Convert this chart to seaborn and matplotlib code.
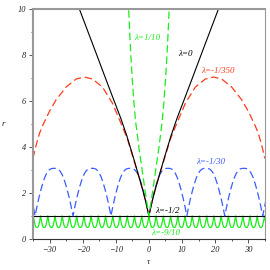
import numpy as np
import seaborn as sns
import matplotlib.pyplot as plt
from matplotlib.ticker import MultipleLocator

# curves
black_tau = [-22, -21, -19, -16, -13, -10.6, -8.5, -6.7, -4.5, -3, -2, -1, 0,
             1, 2, 3, 4.5, 6.7, 8.5, 10.6, 13, 16, 19, 21, 22]
black_r = [10.4, 10.0, 9.24, 8.1, 6.95, 6.04, 5.25, 4.5, 3.45, 2.7, 2.2, 1.65, 1.0,
           1.65, 2.2, 2.7, 3.45, 4.5, 5.25, 6.04, 6.95, 8.1, 9.24, 10.0, 10.4]

red_tau = [-35, -34, -33, -32, -30, -28, -25, -22, -19.5, -17, -14, -11, -8.5, -6.5,
           -4.5, -3, -2, -1, 0, 1, 2, 3, 4.5, 6.5, 8.5, 11, 14, 17, 19.5, 22, 25,
           28, 30, 32, 33, 34, 35]
red_r = [3.5, 4.1, 4.6, 4.95, 5.55, 6.05, 6.6, 6.95, 7.04, 6.95, 6.6, 5.9, 5.05, 4.35,
         3.4, 2.7, 2.2, 1.65, 1.0, 1.65, 2.2, 2.7, 3.4, 4.35, 5.05, 5.9, 6.6, 6.95,
         7.04, 6.95, 6.6, 6.05, 5.55, 4.95, 4.6, 4.1, 3.5]

green_up_tau = [-6.3, -6.0, -5.5, -5.0, -4.5, -4.0, -3.0, -2.0, -1.0, 0,
                1.0, 2.0, 3.0, 4.0, 4.5, 5.0, 5.5, 6.0, 6.3]
green_up_r = [10.8, 9.6, 8.1, 6.9, 5.9, 5.1, 3.95, 2.95, 1.95, 1.0,
              1.95, 2.95, 3.95, 5.1, 5.9, 6.9, 8.1, 9.6, 10.8]

flat_tau = [-35, 35]
flat_r = [1.0, 1.0]

# shape of one arch (fraction of the way from r=1 to the turning point)
arch_u = [0, 0.05, 0.1, 0.15, 0.2, 0.25, 0.3, 0.35, 0.4, 0.45, 0.5,
          0.55, 0.6, 0.65, 0.7, 0.75, 0.8, 0.85, 0.9, 0.95, 1.0]
arch_f = [0, 0.2, 0.38, 0.54, 0.68, 0.8, 0.89, 0.95, 0.985, 0.998, 1.0,
          0.998, 0.985, 0.95, 0.89, 0.8, 0.68, 0.54, 0.38, 0.2, 0]

blue_bounce = [-45.8, -34.35, -22.9, -11.45, 0, 11.45, 22.9, 34.35, 45.8]
blue_turn = 3.07

green_bounce = [-37.06, -34.88, -32.7, -30.52, -28.34, -26.16, -23.98, -21.8,
                -19.62, -17.44, -15.26, -13.08, -10.9, -8.72, -6.54, -4.36,
                -2.18, 0, 2.18, 4.36, 6.54, 8.72, 10.9, 13.08, 15.26, 17.44,
                19.62, 21.8, 23.98, 26.16, 28.34, 30.52, 32.7, 34.88, 37.06]
green_turn = 0.5


def arches(bounce, turn):
    tau, r = [], []
    for a, b in zip(bounce[:-1], bounce[1:]):
        for u, f in zip(arch_u, arch_f):
            tau.append(a + u * (b - a))
            r.append(1 + (turn - 1) * f)
    return tau, r


blue_tau, blue_r = arches(blue_bounce, blue_turn)
green_tau, green_r = arches(green_bounce, green_turn)

sns.set_style("ticks")
plt.rcParams['font.family'] = ['Liberation Serif', 'DejaVu Serif']
plt.rcParams['font.style'] = 'italic'

fig = plt.figure(figsize=(2.7, 2.7), dpi=100)
ax = fig.add_axes([0.122, 0.115, 0.859, 0.852])

red = '#ff3a1a'
blue = '#3a5cff'
green = '#19ee19'

sns.lineplot(x=green_tau, y=green_r, color=green, lw=0.9, sort=False, ax=ax)
sns.lineplot(x=flat_tau, y=flat_r, color='black', lw=0.8, sort=False, ax=ax)
sns.lineplot(x=blue_tau, y=blue_r, color=blue, lw=0.9, sort=False,
             linestyle=(0, (6, 3)), ax=ax)
sns.lineplot(x=red_tau, y=red_r, color=red, lw=0.9, sort=False,
             linestyle=(0, (6, 3)), ax=ax)
sns.lineplot(x=black_tau, y=black_r, color='black', lw=0.8, sort=False, ax=ax)
sns.lineplot(x=green_up_tau, y=green_up_r, color=green, lw=0.9, sort=False,
             linestyle=(0, (6, 3)), ax=ax)

ax.set_xlim(-35, 35)
ax.set_ylim(0, 10)
ax.xaxis.set_major_locator(MultipleLocator(10))
ax.xaxis.set_minor_locator(MultipleLocator(5))
ax.yaxis.set_major_locator(MultipleLocator(2))
ax.yaxis.set_minor_locator(MultipleLocator(1))
ax.tick_params(which='major', length=3, width=0.7, labelsize=6, pad=2, color='#555555')
ax.tick_params(which='minor', length=1.5, width=0.7, color='#555555')

for side in ['left', 'top']:
    ax.spines[side].set_color('#999999')
    ax.spines[side].set_linewidth(1.5)
ax.spines['right'].set_color('#999999')
ax.spines['right'].set_linewidth(0.8)
ax.spines['bottom'].set_color('#333333')
ax.spines['bottom'].set_linewidth(0.8)

ax.set_xlabel('τ', fontsize=6.5, labelpad=3)
ax.set_ylabel('r', fontsize=6.5, rotation=0, labelpad=10, va='center')

lab = dict(fontsize=6.5, ha='center', va='center')
ax.text(-0.6, 8.72, 'λ=1/10', color=green, **lab)
ax.text(10.95, 8.03, 'λ=0', color='black', **lab)
ax.text(20.7, 7.3, 'λ=-1/350', color=red, **lab)
ax.text(18.8, 3.36, 'λ=-1/30', color=blue, **lab)
ax.text(5.5, 1.22, 'λ=-1/2', color='black', **lab)
ax.text(5.2, 0.25, 'λ=-9/10', color=green, **lab)

fig.savefig('out.png', dpi=100)
